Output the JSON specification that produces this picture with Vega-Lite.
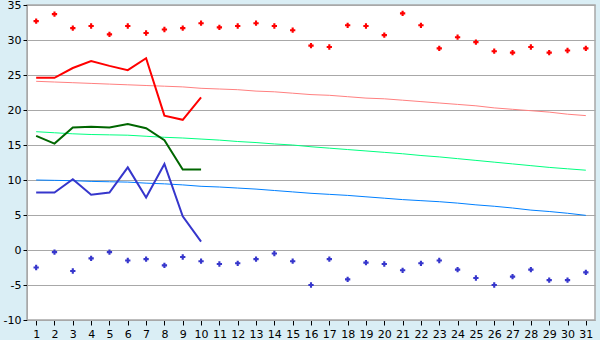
{
  "$schema": "https://vega.github.io/schema/vega-lite/v6.json",
  "width": 568,
  "height": 315,
  "autosize": {"type": "none"},
  "padding": {"left": 27, "top": 5, "right": 5, "bottom": 20},
  "background": "#DAEEF5",
  "config": {
    "view": {"fill": "#FFFFFF", "stroke": "#A8A8A8", "strokeWidth": 1.5},
    "font": "DejaVu Sans",
    "axis": {"labelFont": "DejaVu Sans", "labelFontSize": 11, "labelColor": "#000000", "tickColor": "#000000", "domainColor": "#A8A8A8", "title": null}
  },
  "datasets": {
    "recmax": [
      {"day":1,"value":32.7},{"day":2,"value":33.7},{"day":3,"value":31.7},{"day":4,"value":32.0},{"day":5,"value":30.8},{"day":6,"value":32.0},{"day":7,"value":31.0},{"day":8,"value":31.5},{"day":9,"value":31.7},{"day":10,"value":32.4},{"day":11,"value":31.8},{"day":12,"value":32.0},{"day":13,"value":32.4},{"day":14,"value":32.0},{"day":15,"value":31.4},{"day":16,"value":29.2},{"day":17,"value":29.0},{"day":18,"value":32.1},{"day":19,"value":32.0},{"day":20,"value":30.7},{"day":21,"value":33.8},{"day":22,"value":32.1},{"day":23,"value":28.8},{"day":24,"value":30.4},{"day":25,"value":29.7},{"day":26,"value":28.4},{"day":27,"value":28.2},{"day":28,"value":29.0},{"day":29,"value":28.2},{"day":30,"value":28.5},{"day":31,"value":28.8}
    ],
    "recmin": [
      {"day":1,"value":-2.5},{"day":2,"value":-0.3},{"day":3,"value":-3.0},{"day":4,"value":-1.2},{"day":5,"value":-0.3},{"day":6,"value":-1.5},{"day":7,"value":-1.3},{"day":8,"value":-2.2},{"day":9,"value":-1.0},{"day":10,"value":-1.6},{"day":11,"value":-2.0},{"day":12,"value":-1.9},{"day":13,"value":-1.3},{"day":14,"value":-0.5},{"day":15,"value":-1.6},{"day":16,"value":-5.0},{"day":17,"value":-1.3},{"day":18,"value":-4.2},{"day":19,"value":-1.8},{"day":20,"value":-2.0},{"day":21,"value":-2.9},{"day":22,"value":-1.9},{"day":23,"value":-1.5},{"day":24,"value":-2.8},{"day":25,"value":-4.0},{"day":26,"value":-5.0},{"day":27,"value":-3.8},{"day":28,"value":-2.8},{"day":29,"value":-4.3},{"day":30,"value":-4.3},{"day":31,"value":-3.2}
    ],
    "normmax": [
      {"day":1,"value":24.1},{"day":2,"value":24.0},{"day":3,"value":23.9},{"day":4,"value":23.8},{"day":5,"value":23.7},{"day":6,"value":23.6},{"day":7,"value":23.5},{"day":8,"value":23.4},{"day":9,"value":23.3},{"day":10,"value":23.1},{"day":11,"value":23.0},{"day":12,"value":22.9},{"day":13,"value":22.7},{"day":14,"value":22.6},{"day":15,"value":22.4},{"day":16,"value":22.2},{"day":17,"value":22.1},{"day":18,"value":21.9},{"day":19,"value":21.7},{"day":20,"value":21.6},{"day":21,"value":21.4},{"day":22,"value":21.2},{"day":23,"value":21.0},{"day":24,"value":20.8},{"day":25,"value":20.6},{"day":26,"value":20.3},{"day":27,"value":20.1},{"day":28,"value":19.9},{"day":29,"value":19.7},{"day":30,"value":19.4},{"day":31,"value":19.2}
    ],
    "normavg": [
      {"day":1,"value":16.9},{"day":2,"value":16.75},{"day":3,"value":16.6},{"day":4,"value":16.5},{"day":5,"value":16.45},{"day":6,"value":16.4},{"day":7,"value":16.25},{"day":8,"value":16.1},{"day":9,"value":16.0},{"day":10,"value":15.85},{"day":11,"value":15.7},{"day":12,"value":15.5},{"day":13,"value":15.35},{"day":14,"value":15.15},{"day":15,"value":15.0},{"day":16,"value":14.75},{"day":17,"value":14.55},{"day":18,"value":14.35},{"day":19,"value":14.15},{"day":20,"value":13.95},{"day":21,"value":13.75},{"day":22,"value":13.5},{"day":23,"value":13.3},{"day":24,"value":13.05},{"day":25,"value":12.8},{"day":26,"value":12.55},{"day":27,"value":12.3},{"day":28,"value":12.05},{"day":29,"value":11.8},{"day":30,"value":11.6},{"day":31,"value":11.4}
    ],
    "normmin": [
      {"day":1,"value":10.0},{"day":2,"value":9.95},{"day":3,"value":9.9},{"day":4,"value":9.8},{"day":5,"value":9.75},{"day":6,"value":9.7},{"day":7,"value":9.55},{"day":8,"value":9.45},{"day":9,"value":9.3},{"day":10,"value":9.1},{"day":11,"value":9.0},{"day":12,"value":8.85},{"day":13,"value":8.7},{"day":14,"value":8.5},{"day":15,"value":8.3},{"day":16,"value":8.1},{"day":17,"value":7.95},{"day":18,"value":7.8},{"day":19,"value":7.6},{"day":20,"value":7.4},{"day":21,"value":7.2},{"day":22,"value":7.05},{"day":23,"value":6.9},{"day":24,"value":6.7},{"day":25,"value":6.45},{"day":26,"value":6.25},{"day":27,"value":6.0},{"day":28,"value":5.7},{"day":29,"value":5.5},{"day":30,"value":5.25},{"day":31,"value":4.95}
    ],
    "meanmax": [
      {"day":1,"value":24.6},{"day":2,"value":24.6},{"day":3,"value":26.0},{"day":4,"value":27.0},{"day":5,"value":26.3},{"day":6,"value":25.7},{"day":7,"value":27.4},{"day":8,"value":19.2},{"day":9,"value":18.6},{"day":10,"value":21.8}
    ],
    "meanavg": [
      {"day":1,"value":16.3},{"day":2,"value":15.2},{"day":3,"value":17.5},{"day":4,"value":17.6},{"day":5,"value":17.5},{"day":6,"value":18.0},{"day":7,"value":17.4},{"day":8,"value":15.7},{"day":9,"value":11.5},{"day":10,"value":11.5}
    ],
    "meanmin": [
      {"day":1,"value":8.2},{"day":2,"value":8.2},{"day":3,"value":10.1},{"day":4,"value":7.9},{"day":5,"value":8.2},{"day":6,"value":11.8},{"day":7,"value":7.5},{"day":8,"value":12.3},{"day":9,"value":4.8},{"day":10,"value":1.2}
    ]
  },
  "encoding": {
    "x": {
      "field": "day", "type": "quantitative",
      "scale": {"domain": [0.5, 31.5], "nice": false, "zero": false},
      "axis": {"values": [1,2,3,4,5,6,7,8,9,10,11,12,13,14,15,16,17,18,19,20,21,22,23,24,25,26,27,28,29,30,31], "grid": false, "tickSize": 5, "labelPadding": 3, "format": "d", "labelFlush": false, "labelOverlap": false}
    },
    "y": {
      "field": "value", "type": "quantitative",
      "scale": {"domain": [-10, 35], "nice": false, "zero": false},
      "axis": {"values": [-10,-5,0,5,10,15,20,25,30,35], "grid": true, "gridColor": "#A8A8A8", "gridOpacity": 1, "tickSize": 4, "labelPadding": 2, "labelExpr": "toString(datum.value)", "labelFlush": false, "labelOverlap": false}
    }
  },
  "layer": [
    {"data": {"name": "normmax"}, "mark": {"type": "line", "color": "#FF8080", "strokeWidth": 1}},
    {"data": {"name": "normavg"}, "mark": {"type": "line", "color": "#00FF80", "strokeWidth": 1}},
    {"data": {"name": "normmin"}, "mark": {"type": "line", "color": "#0080FF", "strokeWidth": 1}},
    {"data": {"name": "meanmax"}, "mark": {"type": "line", "color": "#FF0000", "strokeWidth": 2}},
    {"data": {"name": "meanavg"}, "mark": {"type": "line", "color": "#006600", "strokeWidth": 2}},
    {"data": {"name": "meanmin"}, "mark": {"type": "line", "color": "#3636CC", "strokeWidth": 2}},
    {"data": {"name": "recmax"}, "mark": {"type": "point", "shape": "cross", "filled": true, "size": 28, "color": "#FF0000", "opacity": 1}},
    {"data": {"name": "recmin"}, "mark": {"type": "point", "shape": "cross", "filled": true, "size": 28, "color": "#3636CC", "opacity": 1}}
  ]
}
